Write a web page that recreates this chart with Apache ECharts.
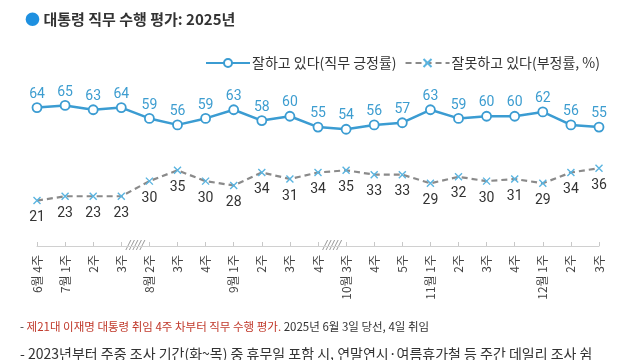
<!DOCTYPE html>
<html><head><meta charset="utf-8">
<script src="https://cdn.jsdelivr.net/npm/echarts@6/dist/echarts.min.js"></script>
<style>html,body{margin:0;padding:0;background:#fff}#c{width:640px;height:360px}</style>
</head><body><div id="c"></div>
<script>
const weeks = ['6월 4주','7월 1주','7월 2주','7월 3주','8월 2주','8월 3주','8월 4주','9월 1주','9월 2주','9월 3주','9월 4주','10월 3주','10월 4주','10월 5주','11월 1주','11월 2주','11월 3주','11월 4주','12월 1주','12월 2주','12월 3주'];
const tickLabels = ['6월 4주','7월 1주','2주','3주','8월 2주','3주','4주','9월 1주','2주','3주','4주','10월 3주','4주','5주','11월 1주','2주','3주','4주','12월 1주','2주','3주'];
const positive = [64,65,63,64,59,56,59,63,58,60,55,54,56,57,63,59,60,60,62,56,55];
const negative = [21,23,23,23,30,35,30,28,34,31,34,35,33,33,29,32,30,31,29,34,36];
const breakAfter = [3, 10];
const seriesNames = ['잘하고 있다(직무 긍정률)', '잘못하고 있다(부정률, %)'];
const titleText = '대통령 직무 수행 평가: 2025년';
const note1Red = '제21대 이재명 대통령 취임 4주 차부터 직무 수행 평가.';
const note1Rest = ' 2025년 6월 3일 당선, 4일 취임';
const note2 = '- 2023년부터 주중 조사 기간(화~목) 중 휴무일 포함 시, 연말연시·여름휴가철 등 주간 데일리 조사 쉼';

const BLUE = '#3b9cd2';
const FONT = "Roboto, 'Noto Sans CJK KR', sans-serif";
const KFONT = "'Noto Sans CJK KR', sans-serif";
const chart = echarts.init(document.getElementById('c'));
chart.setOption({
  animation: false,
  backgroundColor: '#fff',
  title: {
    left: 20, top: 7,
    text: '{dot|●} ' + titleText,
    textStyle: {
      fontFamily: KFONT, fontSize: 15, fontWeight: 'bold', color: '#333',
      rich: { dot: { color: '#1e90e0', fontSize: 15 } }
    }
  },
  legend: {
    left: 200, top: 51, itemWidth: 44, itemHeight: 10, itemGap: 8,
    textStyle: { fontFamily: KFONT, fontSize: 14, color: '#333', padding: [0,0,0,-3] },
    data: seriesNames
  },
  grid: { left: 37, right: 41, top: 73, bottom: 114 },
  xAxis: {
    type: 'category', data: weeks, boundaryGap: false,
    axisLine: { lineStyle: { color: '#d0d0d0', width: 1 } },
    axisTick: { show: true, alignWithLabel: true, length: 4, inside: true, lineStyle: { color: '#c8c8c8' } },
    axisLabel: {
      rotate: 90, margin: 9, interval: 0, fontFamily: KFONT, fontSize: 12, color: '#444',
      formatter: (v, i) => tickLabels[i]
    }
  },
  yAxis: { type: 'value', min: 0, max: 80, show: false, splitLine: { show: false } },
  series: [
    {
      name: seriesNames[0], type: 'line', data: positive,
      symbol: 'circle', symbolSize: 9, showAllSymbol: true,
      lineStyle: { color: BLUE, width: 2.5 },
      itemStyle: { color: '#fff', borderColor: BLUE, borderWidth: 1.8 },
      label: { show: true, position: 'top', distance: 1, color: '#3d9dd0', fontSize: 14, fontFamily: FONT }
    },
    {
      name: seriesNames[1], type: 'line', data: negative,
      symbol: 'path://M0,0L10,10M10,0L0,10', symbolSize: 7, showAllSymbol: true,
      lineStyle: { color: '#8a8a8a', width: 2.2, type: [6, 4] },
      itemStyle: { color: '#5ab4e0', borderColor: '#5ab4e0', borderWidth: 1.4 },
      label: { show: true, position: 'bottom', distance: 6, color: '#333', fontSize: 14, fontFamily: FONT }
    }
  ]
});

const graphics = [];
breakAfter.forEach(i => {
  const a = chart.convertToPixel({ xAxisIndex: 0, yAxisIndex: 0 }, [i, 0]);
  const b = chart.convertToPixel({ xAxisIndex: 0, yAxisIndex: 0 }, [i + 1, 0]);
  graphics.push({
    type: 'text', x: (a[0] + b[0]) / 2, y: a[1],
    style: { text: '/////', fill: '#999', font: 'italic 12px ' + FONT, align: 'center', verticalAlign: 'middle', backgroundColor: '#fff' }
  });
});
graphics.push({
  type: 'text', left: 20, top: 321,
  style: {
    text: '{d|- }{r|' + note1Red + '}{d|' + note1Rest + '}',
    font: '11.5px ' + KFONT,
    rich: { d: { fill: '#333', fontSize: 11.5, fontFamily: KFONT }, r: { fill: '#c0392b', fontSize: 11.5, fontFamily: KFONT } }
  }
});
graphics.push({
  type: 'text', left: 20, top: 347,
  style: { text: note2, fill: '#333', font: '14px ' + KFONT }
});
chart.setOption({ graphic: graphics });
</script>
</body></html>
